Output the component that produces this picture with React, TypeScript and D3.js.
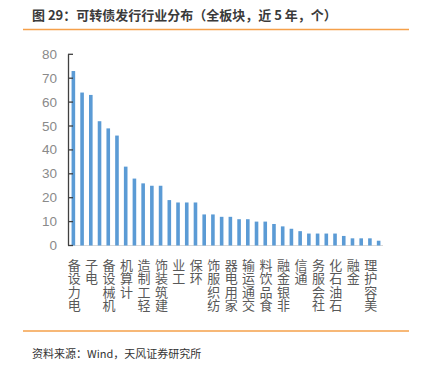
import React from "react";
import * as d3 from "d3";

const labels = ["电力设备","电子","机械设备","计算机","轻工制造","建筑装饰","工业","环保","纺织服饰","家用电器","交通运输","食品饮料","非银金融","通信","社会服务","石油石化","金融","美容护理"];
const values = [73,64,63,52,49,46,33,28,26,25,25,19,18,18,18,13,13,12,12,11,11,10,10,9,8,7,6,5,5,5,5,4,3,3,3,2];
const yTicks = [0,10,20,30,40,50,60,70,80];

const W = 422, H = 369;
const FONT = "'Noto Sans CJK SC', 'Noto Sans', sans-serif";

export default function App() {
  const idx = values.map((_, i) => i);
  const x = d3.scaleBand<number>().domain(idx).range([69, 383]).paddingInner(0).paddingOuter(0);
  const y = d3.scaleLinear().domain([0, 80]).range([245.5, 54.3]);
  const bw = 3.6;
  const charPitch = 13.6;
  return (
    <svg width={W} height={H} style={{ position: "absolute", left: 0, top: 0, background: "#fff" }} fontFamily={FONT}>
      <text x={32} y={20} fontSize={13} fontWeight="bold" fill="#3a3a3a">图 29：可转债发行行业分布（全板块，近 5 年，个）</text>
      <line x1={23} x2={409} y1={29.5} y2={29.5} stroke="#F5A04A" strokeWidth={1.6} />
      {/* x axis */}
      <line x1={68} x2={383} y1={y(0)} y2={y(0)} stroke="#d9d9d9" strokeWidth={1.2} />
      {/* bars */}
      {values.map((v, i) => (
        <rect key={i} x={x(i)! + x.bandwidth() / 2 - bw / 2} y={y(v)} width={bw} height={y(0) - y(v)} fill="#5B9BD5" />
      ))}
      {/* y axis */}
      <line x1={68.5} x2={68.5} y1={y(0)} y2={y(80)} stroke="#404040" strokeWidth={1.3} />
      {yTicks.map((t) => (
        <g key={t}>
          <line x1={68} x2={73} y1={y(t)} y2={y(t)} stroke="#404040" strokeWidth={1.3} />
          <text x={57} y={y(t)} textAnchor="end" dominantBaseline="central" fontSize={13.5} fill="#8a8a8a" fontFamily="'Liberation Sans', Arial, sans-serif">{t}</text>
        </g>
      ))}
      {/* x labels: every other bar, vertical stacked (read bottom to top), anchored at top */}
      {labels.map((lab, j) => {
        const i = j * 2;
        const cx = x(i)! + x.bandwidth() / 2 + 0.8;
        const chars = Array.from(lab);
        const n = chars.length;
        return (
          <text key={j} textAnchor="middle" dominantBaseline="central" fontSize={13} fill="#595959">
            {chars.map((c, k) => (
              <tspan key={k} x={cx} y={263.5 + (n - 1 - k) * charPitch}>{c}</tspan>
            ))}
          </text>
        );
      })}
      <line x1={23} x2={409} y1={331} y2={331} stroke="#F5A04A" strokeWidth={1.6} />
      <text x={32} y={358} fontSize={11} fill="#333">资料来源：Wind，天风证券研究所</text>
    </svg>
  );
}
